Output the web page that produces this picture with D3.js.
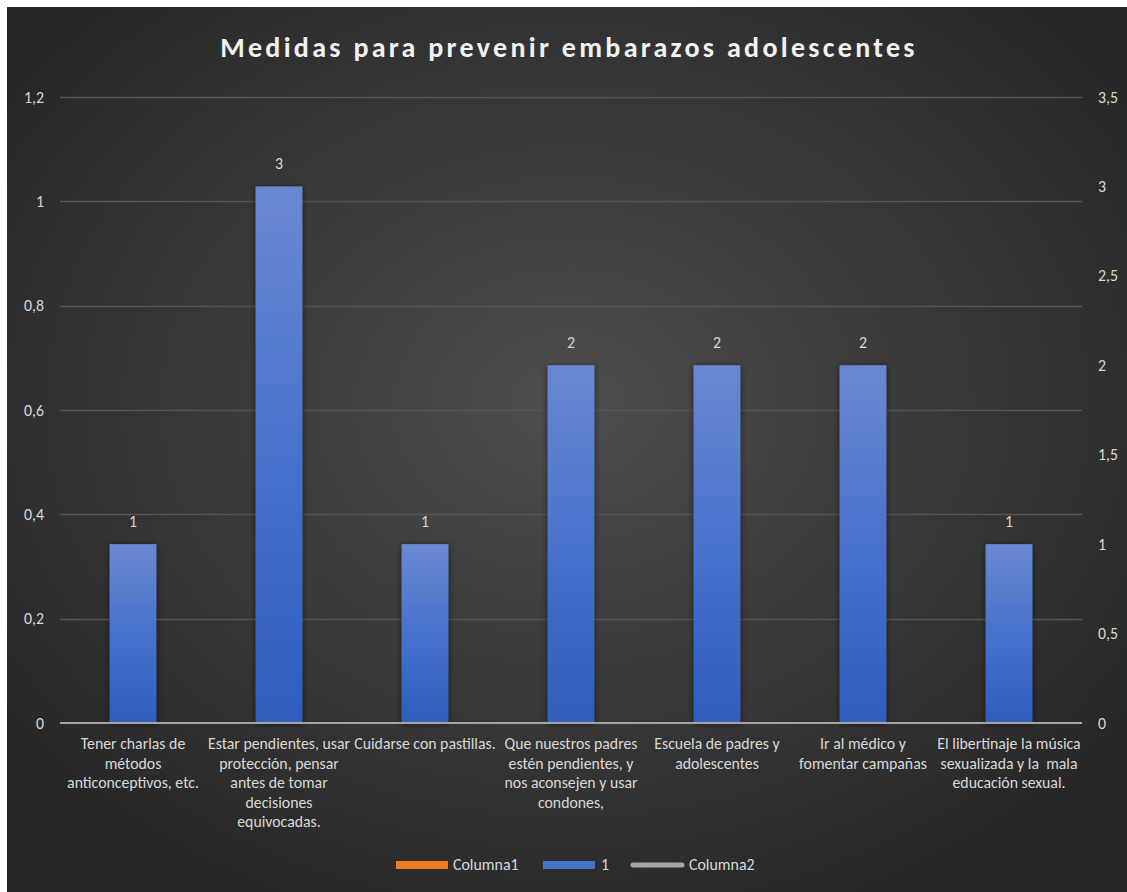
<!DOCTYPE html>
<html>
<head>
<meta charset="utf-8">
<script src="https://cdn.jsdelivr.net/npm/d3@7"></script>
<style>
  html, body { margin: 0; padding: 0; background: #ffffff; }
  svg { display: block; }
  text { font-family: Carlito, Calibri, Lato, "Open Sans", sans-serif; }
</style>
</head>
<body>
<svg id="chart" width="1127" height="892"></svg>
<script>
// Category labels, with the line breaks used under the axis
const categories = [
  "Tener charlas de\nmétodos\nanticonceptivos, etc.",
  "Estar pendientes, usar\nprotección, pensar\nantes de tomar\ndecisiones\nequivocadas.",
  "Cuidarse con pastillas.",
  "Que nuestros padres\nestén pendientes, y\nnos aconsejen y usar\ncondones,",
  "Escuela de padres y\nadolescentes",
  "Ir al médico y\nfomentar campañas",
  "El libertinaje la música\nsexualizada y la  mala\neducación sexual."
];
// Series "1" (plotted on the secondary axis)
const seriesValues = [1, 3, 1, 2, 2, 2, 1];
// Axis ticks
const leftTicks = [0, 0.2, 0.4, 0.6, 0.8, 1, 1.2];
const rightTicks = [0, 0.5, 1, 1.5, 2, 2.5, 3, 3.5];
// Legend entries
const legendNames = ["Columna1", "1", "Columna2"];

const W = 1127, H = 892;
const FS = 15.8;
const svg = d3.select("#chart");
const defs = svg.append("defs");

// Chart area background
const bg = defs.append("radialGradient").attr("id", "bgGrad")
  .attr("cx", "50%").attr("cy", "45%").attr("r", "65%");
bg.append("stop").attr("offset", "0%").attr("stop-color", "#4d4d4d");
bg.append("stop").attr("offset", "100%").attr("stop-color", "#252525");

const barGrad = defs.append("linearGradient").attr("id", "barGrad")
  .attr("x1", 0).attr("y1", 0).attr("x2", 0).attr("y2", 1);
barGrad.append("stop").attr("offset", "0%").attr("stop-color", "#6a88d2");
barGrad.append("stop").attr("offset", "55%").attr("stop-color", "#4570cc");
barGrad.append("stop").attr("offset", "100%").attr("stop-color", "#2f5ebd");

const shadow = defs.append("filter").attr("id", "barShadow")
  .attr("x", "-30%").attr("y", "-10%").attr("width", "160%").attr("height", "120%");
shadow.append("feGaussianBlur").attr("in", "SourceAlpha").attr("stdDeviation", 3).attr("result", "b");
shadow.append("feOffset").attr("in", "b").attr("dx", 0).attr("dy", 1).attr("result", "o");
shadow.append("feComponentTransfer").attr("in", "o").attr("result", "s")
  .append("feFuncA").attr("type", "linear").attr("slope", 0.55);
const merge = shadow.append("feMerge");
merge.append("feMergeNode").attr("in", "s");
merge.append("feMergeNode").attr("in", "SourceGraphic");

svg.append("rect").attr("x", 7).attr("y", 7).attr("width", W - 7).attr("height", H - 7)
  .attr("fill", "url(#bgGrad)");

// Plot area
const plot = { left: 60, right: 1082, top: 97, bottom: 723 };

const x = d3.scaleBand().domain(d3.range(categories.length))
  .range([plot.left, plot.right]).paddingInner(0.68).paddingOuter(0.34);
const yLeft = d3.scaleLinear().domain([0, 1.2]).range([plot.bottom, plot.top]);
const yRight = d3.scaleLinear().domain([0, 3.5]).range([plot.bottom, plot.top]);

const fmt = v => String(v).replace(".", ",");

// Title
svg.append("text")
  .attr("x", 569).attr("y", 57)
  .attr("text-anchor", "middle")
  .attr("fill", "#f2f2f2")
  .attr("font-size", 28).attr("font-weight", "bold")
  .attr("letter-spacing", 3.3)
  .text("Medidas para prevenir embarazos adolescentes");

// Gridlines (primary axis)
svg.append("g").selectAll("line").data(leftTicks.filter(d => d > 0)).join("line")
  .attr("x1", plot.left).attr("x2", plot.right)
  .attr("y1", d => Math.round(yLeft(d)) + 0.5).attr("y2", d => Math.round(yLeft(d)) + 0.5)
  .attr("stroke", "#555555").attr("stroke-width", 1.3);

// Left axis
const gl = svg.append("g").attr("transform", `translate(${plot.left - 16},0)`)
  .call(d3.axisLeft(yLeft).tickValues(leftTicks).tickFormat(fmt).tickSize(0).tickPadding(0));
gl.select(".domain").remove();
gl.selectAll("text").attr("fill", "#d9d9d9").attr("font-size", FS)
  .style("font-family", "Carlito, Calibri, Lato, sans-serif");

// Right axis
const gr = svg.append("g").attr("transform", `translate(${plot.right + 16},0)`)
  .call(d3.axisRight(yRight).tickValues(rightTicks).tickFormat(fmt).tickSize(0).tickPadding(0));
gr.select(".domain").remove();
gr.selectAll("text").attr("fill", "#d9d9d9").attr("font-size", FS)
  .style("font-family", "Carlito, Calibri, Lato, sans-serif");

// Bars
svg.append("g").selectAll("rect").data(seriesValues).join("rect")
  .attr("x", (d, i) => x(i))
  .attr("width", x.bandwidth())
  .attr("y", d => yRight(d))
  .attr("height", d => yRight(0) - yRight(d))
  .attr("fill", "url(#barGrad)")
  .attr("filter", "url(#barShadow)");

// Data labels
svg.append("g").selectAll("text").data(seriesValues).join("text")
  .attr("x", (d, i) => x(i) + x.bandwidth() / 2)
  .attr("y", d => yRight(d) - 17)
  .attr("text-anchor", "middle")
  .attr("fill", "#d9d9d9").attr("font-size", FS)
  .text(d => fmt(d));

// Category axis line
svg.append("line")
  .attr("x1", plot.left).attr("x2", plot.right)
  .attr("y1", plot.bottom).attr("y2", plot.bottom)
  .attr("stroke", "#a6a6a6").attr("stroke-width", 2);

// Category labels
const gx = svg.append("g").attr("transform", `translate(0,${plot.bottom})`)
  .call(d3.axisBottom(x).tickFormat("").tickSize(0));
gx.select(".domain").remove();
gx.selectAll(".tick").each(function (d) {
  const lines = categories[d].split("\n");
  const t = d3.select(this).append("text")
    .attr("text-anchor", "middle").attr("fill", "#d9d9d9")
    .attr("font-size", FS)
    .style("white-space", "pre")
    .style("font-family", "Carlito, Calibri, Lato, sans-serif");
  lines.forEach((ln, k) => {
    t.append("tspan").attr("x", 0).attr("y", 26 + k * 19.5).text(ln);
  });
});

// Legend
const legendY = 865;
const LFS = 15.9;
const lg = svg.append("g");
// Columna1: line marker
lg.append("rect").attr("x", 396).attr("y", legendY - 4).attr("width", 52).attr("height", 8)
  .attr("fill", "#f07c24");
lg.append("text").attr("x", 453).attr("y", legendY + 5).attr("fill", "#d9d9d9")
  .attr("font-size", LFS).text(legendNames[0]);
// Series 1: bar marker
lg.append("rect").attr("x", 543).attr("y", legendY - 4).attr("width", 52).attr("height", 8)
  .attr("fill", "#4472c4");
lg.append("text").attr("x", 601).attr("y", legendY + 5).attr("fill", "#d9d9d9")
  .attr("font-size", LFS).text(legendNames[1]);
// Columna2: line marker
lg.append("line").attr("x1", 633).attr("x2", 682).attr("y1", legendY).attr("y2", legendY)
  .attr("stroke", "#a5a5a5").attr("stroke-width", 5).attr("stroke-linecap", "round");
lg.append("text").attr("x", 689).attr("y", legendY + 5).attr("fill", "#d9d9d9")
  .attr("font-size", LFS).text(legendNames[2]);
</script>
</body>
</html>
